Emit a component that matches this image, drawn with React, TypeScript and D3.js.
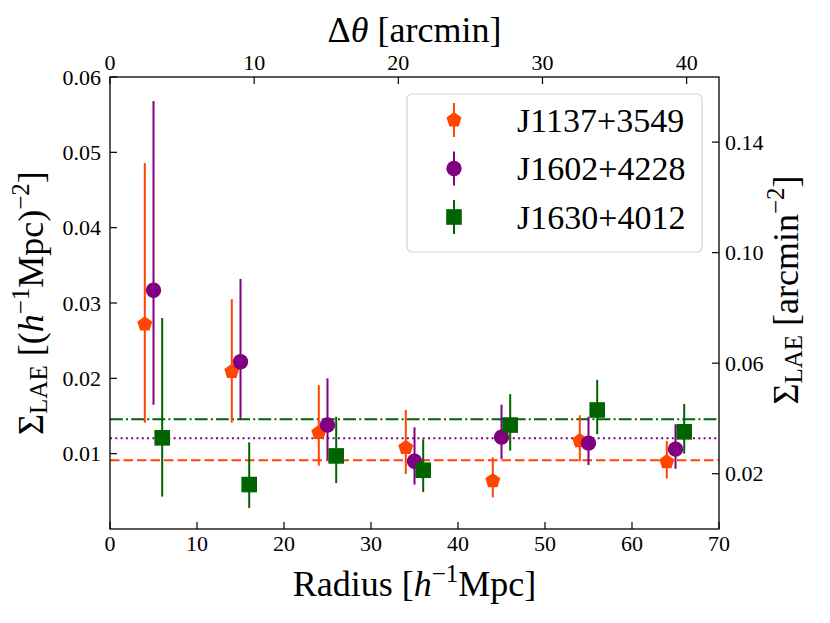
import React from 'react';
import * as d3 from 'd3';

// ---------------- data ----------------
const seriesNames = ['J1137+3549', 'J1602+4228', 'J1630+4012'];
const seriesColors = ['#ff4500', '#800080', '#006400'];

const radiusJ1137 = [4, 14, 24, 34, 44, 54, 64];
const valueJ1137 = [0.0272, 0.0209, 0.0128, 0.0108, 0.0064, 0.0117, 0.0089];
const lowJ1137 = [0.0141, 0.0141, 0.0084, 0.0073, 0.0042, 0.0090, 0.0067];
const highJ1137 = [0.0486, 0.0305, 0.0191, 0.0158, 0.0095, 0.0151, 0.0117];

const radiusJ1602 = [5, 15, 25, 35, 45, 55, 65];
const valueJ1602 = [0.0317, 0.0222, 0.0138, 0.0090, 0.0122, 0.0114, 0.0106];
const lowJ1602 = [0.0165, 0.0145, 0.0092, 0.0059, 0.0093, 0.0085, 0.0080];
const highJ1602 = [0.0568, 0.0332, 0.0200, 0.0135, 0.0165, 0.0149, 0.0139];

const radiusJ1630 = [6, 16, 26, 36, 46, 56, 66];
const valueJ1630 = [0.0121, 0.0059, 0.0097, 0.0078, 0.0138, 0.0158, 0.0129];
const lowJ1630 = [0.0043, 0.0028, 0.0061, 0.0049, 0.0104, 0.0126, 0.0100];
const highJ1630 = [0.0280, 0.0115, 0.0149, 0.0119, 0.0179, 0.0198, 0.0166];

const meanLevels = [0.00912, 0.01204, 0.01456];

const xTicks = [0, 10, 20, 30, 40, 50, 60, 70];
const topTicks = [0, 10, 20, 30, 40];
const yTicks = [0.01, 0.02, 0.03, 0.04, 0.05, 0.06];
const rightTicks = [0.02, 0.06, 0.1, 0.14];

const arcminPerMpc = 0.6035;
const areaFactor = 2.726;

// ---------------- layout ----------------
const W = 830, H = 623;
const L = 110, R = 719, T = 77, B = 529;

const x = d3.scaleLinear().domain([0, 70]).range([L, R]);
const xTop = d3.scaleLinear().domain([0, 70 * arcminPerMpc]).range([L, R]);
const y = d3.scaleLinear().domain([0, 0.06]).range([B, T]);
const yRight = d3.scaleLinear().domain([0, 0.06 * areaFactor]).range([B, T]);

const pentagonPath = (d3.lineRadial() as any)
  .curve(d3.curveLinearClosed)(d3.range(5).map((i) => [(i * 2 * Math.PI) / 5, 7.9]));
const circlePath = d3.symbol(d3.symbolCircle, Math.PI * 7.7 * 7.7)() as string;
const squarePath = d3.symbol(d3.symbolSquare, 15.6 * 15.6)() as string;
const markerPaths = [pentagonPath, circlePath, squarePath];

const series = [
  { r: radiusJ1137, v: valueJ1137, lo: lowJ1137, hi: highJ1137 },
  { r: radiusJ1602, v: valueJ1602, lo: lowJ1602, hi: highJ1602 },
  { r: radiusJ1630, v: valueJ1630, lo: lowJ1630, hi: highJ1630 },
];
const dashes = ['9.5,4', '2,3.3', '12.8,3.2,2,3.2'];

const fmt2 = d3.format('.2f');
const TICK_FS = 22;
const LABEL_FS = 36;
const SUB_FS = 25;

export default function App() {
  const tickLen = 7;
  return (
    <svg width={W} height={H} style={{ position: 'absolute', left: 0, top: 0, background: '#fff' }}>
      <style>{`text { font-family: 'Liberation Serif', 'Times New Roman', serif; fill: #000; }`}</style>
      <rect x={0} y={0} width={W} height={H} fill="#fff" />
      <defs>
        <clipPath id="plotclip"><rect x={L} y={T} width={R - L} height={B - T} /></clipPath>
      </defs>

      {/* mean lines */}
      <g clipPath="url(#plotclip)">
        {meanLevels.map((m, i) => (
          <line key={i} x1={L} x2={R} y1={y(m)} y2={y(m)} stroke={seriesColors[i]}
            strokeWidth={2} strokeDasharray={dashes[i]} />
        ))}
      </g>

      {/* error bars + markers */}
      {series.map((s, si) => (
        <g key={si}>
          {s.r.map((rv, i) => (
            <line key={'e' + i} x1={x(rv)} x2={x(rv)} y1={y(s.lo[i])} y2={y(s.hi[i])}
              stroke={seriesColors[si]} strokeWidth={2} />
          ))}
          {s.r.map((rv, i) => (
            <path key={'m' + i} d={markerPaths[si]} transform={`translate(${x(rv)},${y(s.v[i])})`}
              fill={seriesColors[si]} />
          ))}
        </g>
      ))}

      {/* frame */}
      <rect x={L} y={T} width={R - L} height={B - T} fill="none" stroke="#000" strokeWidth={1.3} />

      {/* bottom ticks */}
      {xTicks.map((t) => (
        <g key={'xb' + t}>
          <line x1={x(t)} x2={x(t)} y1={B} y2={B - tickLen} stroke="#000" strokeWidth={1.2} />
          <text x={x(t)} y={551} fontSize={TICK_FS} textAnchor="middle">{t}</text>
        </g>
      ))}
      {/* top ticks */}
      {topTicks.map((t) => (
        <g key={'xt' + t}>
          <line x1={xTop(t)} x2={xTop(t)} y1={T} y2={T + tickLen} stroke="#000" strokeWidth={1.2} />
          <text x={xTop(t)} y={70} fontSize={TICK_FS} textAnchor="middle">{t}</text>
        </g>
      ))}
      {/* left ticks */}
      {yTicks.map((t) => (
        <g key={'yl' + t}>
          <line x1={L} x2={L + tickLen} y1={y(t)} y2={y(t)} stroke="#000" strokeWidth={1.2} />
          <text x={101} y={y(t)} dy="0.35em" fontSize={TICK_FS} textAnchor="end">{fmt2(t)}</text>
        </g>
      ))}
      {/* right ticks */}
      {rightTicks.map((t) => (
        <g key={'yr' + t}>
          <line x1={R} x2={R - tickLen} y1={yRight(t)} y2={yRight(t)} stroke="#000" strokeWidth={1.2} />
          <text x={725} y={yRight(t)} dy="0.35em" fontSize={TICK_FS} textAnchor="start">{fmt2(t)}</text>
        </g>
      ))}

      {/* axis labels */}
      <text x={(L + R) / 2} y={42} fontSize={LABEL_FS} textAnchor="middle">
        Δ<tspan fontStyle="italic">θ</tspan> [arcmin]
      </text>
      <text x={(L + R) / 2} y={596} fontSize={LABEL_FS} textAnchor="middle">
        Radius [<tspan fontStyle="italic">h</tspan>
        <tspan dy={-14} fontSize={SUB_FS}>−1</tspan>
        <tspan dy={14}>Mpc]</tspan>
      </text>
      <text transform={`translate(43,${(T + B) / 2}) rotate(-90)`} fontSize={LABEL_FS} textAnchor="middle">
        Σ<tspan dy={4} fontSize={SUB_FS}>LAE</tspan>
        <tspan dy={-4}> [(</tspan><tspan fontStyle="italic">h</tspan>
        <tspan dy={-14} fontSize={SUB_FS}>−1</tspan>
        <tspan dy={14}>Mpc)</tspan>
        <tspan dy={-14} fontSize={SUB_FS}>−2</tspan>
        <tspan dy={14}>]</tspan>
      </text>
      <text transform={`translate(798,290) rotate(-90)`} fontSize={LABEL_FS} textAnchor="middle">
        Σ<tspan dy={4} fontSize={SUB_FS}>LAE</tspan>
        <tspan dy={-4}> [arcmin</tspan>
        <tspan dy={-14} fontSize={SUB_FS}>−2</tspan>
        <tspan dy={14}>]</tspan>
      </text>

      {/* legend */}
      <rect x={407} y={94} width={295} height={158} rx={5} ry={5} fill="#fff" fillOpacity={0.8}
        stroke="#d6d6d6" strokeWidth={1.2} />
      {seriesNames.map((name, i) => {
        const cy = 120 + i * 48.5;
        return (
          <g key={name}>
            <line x1={454} x2={454} y1={cy - 17} y2={cy + 17} stroke={seriesColors[i]} strokeWidth={2} />
            <path d={markerPaths[i]} transform={`translate(454,${cy})`} fill={seriesColors[i]} />
            <text x={517} y={cy} dy="0.35em" fontSize={34}>{name}</text>
          </g>
        );
      })}
    </svg>
  );
}
